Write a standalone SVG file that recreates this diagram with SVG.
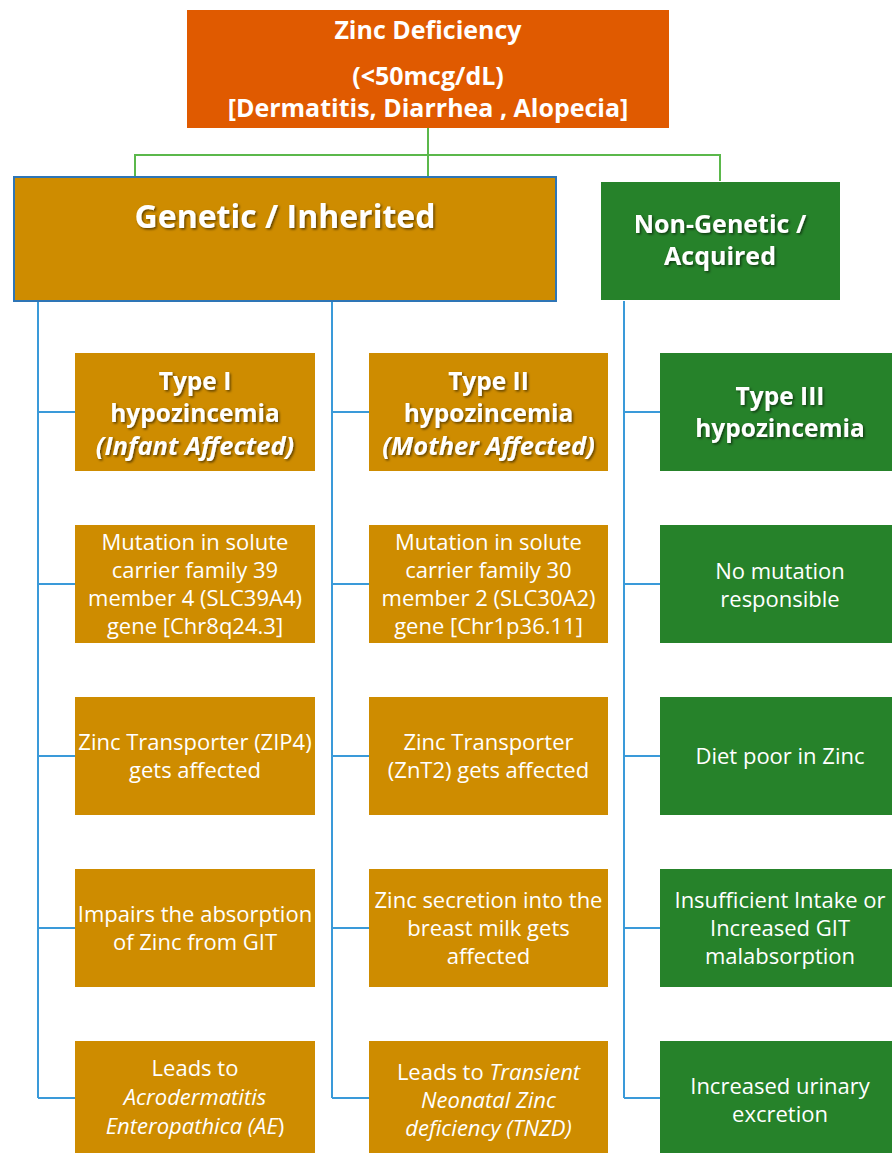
<svg xmlns="http://www.w3.org/2000/svg" width="892" height="1153" viewBox="0 0 892 1153">
<defs>
<filter id="sh" x="-10%" y="-20%" width="120%" height="150%">
<feDropShadow dx="1.5" dy="1.5" stdDeviation="0.8" flood-color="#000" flood-opacity="0.55"/>
</filter>
<style>
.gold{fill:#CE8C00}
.green{fill:#26822A}
.t{font-family:"Open Sans","Liberation Sans",sans-serif;fill:#fff;text-anchor:middle;font-size:22px}
.b{font-weight:bold}
.h{font-weight:bold;font-size:24.5px;filter:url(#sh)}
.hi{font-size:25.5px}
.i{font-style:italic}
.gc{stroke:#5BB84B;stroke-width:2;fill:none}
.bc{stroke:#3A9AD9;stroke-width:2;fill:none}
</style>
</defs>
<rect width="892" height="1153" fill="#fff"/>
<g id="connectors">
<path class="gc" d="M428,128 V177 M135,177 V155 H720 V181"/>
<path class="bc" d="M38,301 V1098 M38,412 H75 M38,584 H75 M38,756 H75 M38,928 H75 M38,1098 H75"/>
<path class="bc" d="M332,301 V1098 M332,412 H369 M332,584 H369 M332,756 H369 M332,928 H369 M332,1098 H369"/>
<path class="bc" d="M624,301 V1098 M624,412 H660 M624,584 H660 M624,756 H660 M624,928 H660 M624,1098 H660"/>
</g>
<g id="root">
<rect x="187" y="10" width="482" height="118" fill="#E05A00"/>
<text class="t b" style="font-size:25px" x="428" y="39">Zinc Deficiency</text>
<text class="t b" style="font-size:25px" x="428" y="85">(&lt;50mcg/dL)</text>
<text class="t b" style="font-size:25px" x="428" y="117">[Dermatitis, Diarrhea , Alopecia]</text>
</g>
<g id="genetic">
<rect x="14" y="177" width="542" height="124" class="gold" stroke="#2E75B6" stroke-width="2"/>
<text class="t b" style="font-size:32px;filter:url(#sh)" x="285" y="228">Genetic / Inherited</text>
</g>
<g id="nongenetic">
<rect x="601" y="182" width="239" height="118" class="green"/>
<text class="t h" style="font-size:25px" x="720" y="233">Non-Genetic /</text>
<text class="t h" style="font-size:25px" x="720" y="265">Acquired</text>
</g>
<g id="type1">
<rect x="75" y="353" width="240" height="118" class="gold"/>
<text class="t h" x="195" y="390">Type I</text>
<text class="t h" x="195" y="422">hypozincemia</text>
<text class="t h i hi" x="195" y="455">(Infant Affected)</text>
</g>
<g id="type2">
<rect x="369" y="353" width="239" height="118" class="gold"/>
<text class="t h" x="488.5" y="390">Type II</text>
<text class="t h" x="488.5" y="422">hypozincemia</text>
<text class="t h i hi" x="488.5" y="455">(Mother Affected)</text>
</g>
<g id="type3">
<rect x="660" y="353" width="240" height="118" class="green"/>
<text class="t h" x="780" y="405">Type III</text>
<text class="t h" x="780" y="437">hypozincemia</text>
</g>
<g id="mut1">
<rect x="75" y="525" width="240" height="118" class="gold"/>
<text class="t" x="195" y="550">Mutation in solute</text>
<text class="t" x="195" y="578">carrier family 39</text>
<text class="t" x="195" y="606">member 4 (SLC39A4)</text>
<text class="t" x="195" y="634">gene [Chr8q24.3]</text>
</g>
<g id="mut2">
<rect x="369" y="525" width="239" height="118" class="gold"/>
<text class="t" x="488.5" y="550">Mutation in solute</text>
<text class="t" x="488.5" y="578">carrier family 30</text>
<text class="t" x="488.5" y="606">member 2 (SLC30A2)</text>
<text class="t" x="488.5" y="634">gene [Chr1p36.11]</text>
</g>
<g id="mut3">
<rect x="660" y="525" width="240" height="118" class="green"/>
<text class="t" x="780" y="579">No mutation</text>
<text class="t" x="780" y="607">responsible</text>
</g>
<g id="trans1">
<rect x="75" y="697" width="240" height="118" class="gold"/>
<text class="t" x="195" y="750">Zinc Transporter (ZIP4)</text>
<text class="t" x="195" y="778">gets affected</text>
</g>
<g id="trans2">
<rect x="369" y="697" width="239" height="118" class="gold"/>
<text class="t" x="488.5" y="750">Zinc Transporter</text>
<text class="t" x="488.5" y="778">(ZnT2) gets affected</text>
</g>
<g id="diet">
<rect x="660" y="697" width="240" height="118" class="green"/>
<text class="t" x="780" y="764">Diet poor in Zinc</text>
</g>
<g id="abs1">
<rect x="75" y="869" width="240" height="118" class="gold"/>
<text class="t" x="195" y="922">Impairs the absorption</text>
<text class="t" x="195" y="950">of Zinc from GIT</text>
</g>
<g id="abs2">
<rect x="369" y="869" width="239" height="118" class="gold"/>
<text class="t" x="488.5" y="908">Zinc secretion into the</text>
<text class="t" x="488.5" y="936">breast milk gets</text>
<text class="t" x="488.5" y="964">affected</text>
</g>
<g id="intake">
<rect x="660" y="869" width="240" height="118" class="green"/>
<text class="t" x="780" y="908">Insufficient Intake or</text>
<text class="t" x="780" y="936">Increased GIT</text>
<text class="t" x="780" y="964">malabsorption</text>
</g>
<g id="ae">
<rect x="75" y="1041" width="240" height="120" class="gold"/>
<text class="t" x="195" y="1076">Leads to</text>
<text class="t i" x="195" y="1105">Acrodermatitis</text>
<text class="t" x="195" y="1134"><tspan class="i">Enteropathica (AE</tspan>)</text>
</g>
<g id="tnzd">
<rect x="369" y="1041" width="239" height="120" class="gold"/>
<text class="t" x="488.5" y="1080">Leads to <tspan class="i">Transient</tspan></text>
<text class="t i" x="488.5" y="1108">Neonatal Zinc</text>
<text class="t i" x="488.5" y="1136">deficiency (TNZD)</text>
</g>
<g id="urinary">
<rect x="660" y="1041" width="240" height="120" class="green"/>
<text class="t" x="780" y="1094">Increased urinary</text>
<text class="t" x="780" y="1122">excretion</text>
</g>
</svg>
